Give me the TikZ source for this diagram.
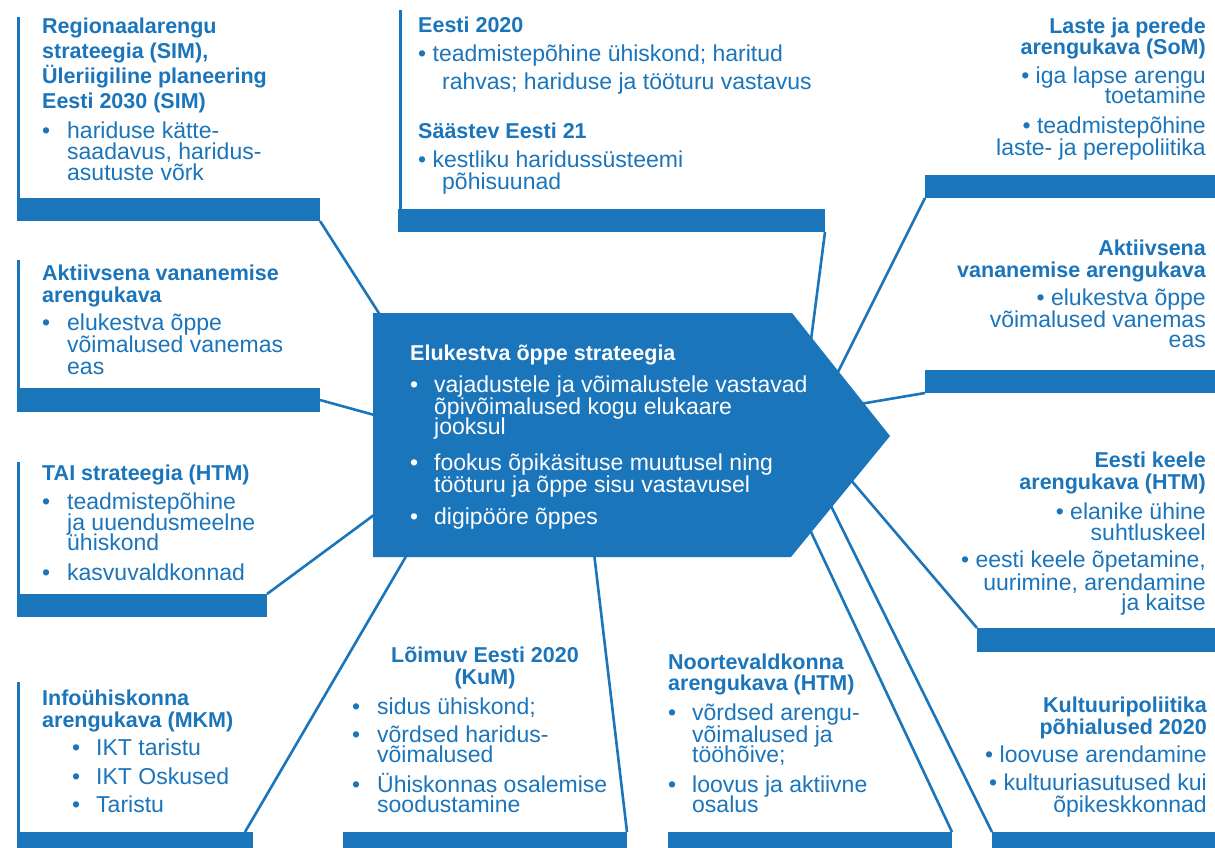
\documentclass[tikz,border=0pt]{standalone}
\usepackage{fontspec}
\setmainfont{Liberation Sans}
\definecolor{eblue}{RGB}{27,117,187}
\newcommand\bl{\makebox[25pt][l]{•}}
\newcommand\bs{\makebox[21pt][l]{•}}
\begin{document}
\begin{tikzpicture}[x=1pt,y=-1pt,
  bar/.style={fill=eblue,draw=none,inner sep=0pt,outer sep=0pt,anchor=north west},
  vline/.style={draw=eblue,line width=3pt},
  conn/.style={draw=eblue,line width=2.6pt},
  ttl/.style={font=\bfseries\fontsize{21.5}{22}\selectfont,text=eblue,inner sep=0pt,anchor=base west},
  bdy/.style={font=\fontsize{23}{22}\selectfont,text=eblue,inner sep=0pt,anchor=base west},
  ttlr/.style={ttl,anchor=base east},
  bdyr/.style={bdy,anchor=base east},
  wttl/.style={ttl,text=white},
  wbdy/.style={bdy,text=white}]
\useasboundingbox (0,0) rectangle (1215,848);
\fill[white] (0,0) rectangle (1215,848);

% bars
\node[bar,minimum width=303pt,minimum height=23pt] (b1) at (17,198) {};
\node[bar,minimum width=427pt,minimum height=23pt] (b2) at (398,209) {};
\node[bar,minimum width=290pt,minimum height=23pt] (b3) at (925,175) {};
\node[bar,minimum width=303pt,minimum height=24pt] (b4) at (17,388) {};
\node[bar,minimum width=290pt,minimum height=23pt] (b5) at (925,370) {};
\node[bar,minimum width=250pt,minimum height=23pt] (b6) at (17,594) {};
\node[bar,minimum width=238pt,minimum height=24pt] (b7) at (977,628) {};
\node[bar,minimum width=236pt,minimum height=16pt] (b8) at (17,832) {};
\node[bar,minimum width=284pt,minimum height=16pt] (b9) at (343,832) {};
\node[bar,minimum width=284pt,minimum height=16pt] (b10) at (668,832) {};
\node[bar,minimum width=223pt,minimum height=16pt] (b11) at (992,832) {};

% vertical box edges
\draw[vline] (18.5,17) -- (18.5,198);
\draw[vline] (400,10) -- (400,209);
\draw[vline] (18.5,260) -- (18.5,388);
\draw[vline] (18.5,462) -- (18.5,594);
\draw[vline] (18.5,682) -- (18.5,832);

% arrow anchor points
\coordinate (a1) at (382,318);
\coordinate (a2) at (378,416);
\coordinate (a3) at (378,512);
\coordinate (a4) at (408,553);
\coordinate (a5) at (594,553);
\coordinate (a6) at (811,532);
\coordinate (a7) at (831,506);
\coordinate (a8) at (850,479);
\coordinate (a9) at (860,404);
\coordinate (a10) at (836,376);
\coordinate (a11) at (811,340);

% connectors
\draw[conn] (b1.south east) -- (a1);
\draw[conn] (b4.east) -- (a2);
\draw[conn] (b6.north east) -- (a3);
\draw[conn] ([xshift=-8pt]b8.north east) -- (a4);
\draw[conn] (b9.north east) -- (a5);
\draw[conn] (b10.north east) -- (a6);
\draw[conn] (b11.north west) -- (a7);
\draw[conn] (b7.north west) -- (a8);
\draw[conn] (b5.south west) -- (a9);
\draw[conn] (b3.south west) -- (a10);
\draw[conn] (b2.south east) -- (a11);

% central arrow
\coordinate (p1) at (373,313);
\coordinate (p2) at (792,313);
\coordinate (p3) at (890,436);
\coordinate (p4) at (791,557);
\coordinate (p5) at (373,557);
\fill[eblue] (p1) -- (p2) -- (p3) -- (p4) -- (p5) -- cycle;
\node[wttl] (ct) at (410,360) {Elukestva õppe strateegia};
\foreach \x/\y/\t [count=\i] in {410/392/{\makebox[24pt][l]{•}vajadustele ja võimalustele vastavad},
  434/414/{õpivõimalused kogu elukaare},
  434/434/{jooksul},
  410/470/{\makebox[24pt][l]{•}fookus õpikäsituse muutusel ning},
  434/492/{tööturu ja õppe sisu vastavusel},
  410/524/{\makebox[24pt][l]{•}digipööre õppes}}
  \node[wbdy] (cb\i) at (\x,\y) {\t};

% Regionaalarengu
\foreach \y/\t [count=\i] in {34/Regionaalarengu,59/{strateegia (SIM),},84/{Üleriigiline planeering},109/{Eesti 2030 (SIM)}}
  \node[ttl] (r1t\i) at (42,\y) {\t};
\foreach \x/\y/\t [count=\i] in {42/139/{\bl hariduse kätte-},67/160/{saadavus, haridus-},67/180/{asutuste võrk}}
  \node[bdy] (r1b\i) at (\x,\y) {\t};

% Eesti 2020
\node[ttl] (r2t1) at (418,33) {Eesti 2020};
\node[ttl] (r2t2) at (418,139) {Säästev Eesti 21};
\foreach \x/\y/\t [count=\i] in {418/62/{• teadmistepõhine ühiskond; haritud},442/90/{rahvas; hariduse ja tööturu vastavus},418/167/{• kestliku haridussüsteemi},442/189/{põhisuunad}}
  \node[bdy] (r2b\i) at (\x,\y) {\t};

% Laste ja perede
\foreach \y/\t [count=\i] in {34/{Laste ja perede},55/{arengukava (SoM)}}
  \node[ttlr] (r3t\i) at (1206,\y) {\t};
\foreach \y/\t [count=\i] in {84/{• iga lapse arengu},104/{toetamine},134/{• teadmistepõhine},155/{laste- ja perepoliitika}}
  \node[bdyr] (r3b\i) at (1206,\y) {\t};

% Aktiivsena (left)
\foreach \y/\t [count=\i] in {280/{Aktiivsena vananemise},302/{arengukava}}
  \node[ttl] (r4t\i) at (42,\y) {\t};
\foreach \x/\y/\t [count=\i] in {42/330/{\bl elukestva õppe},67/352/{võimalused vanemas},67/374/{eas}}
  \node[bdy] (r4b\i) at (\x,\y) {\t};

% Aktiivsena (right)
\foreach \y/\t [count=\i] in {255/{Aktiivsena},277/{vananemise arengukava}}
  \node[ttlr] (r5t\i) at (1206,\y) {\t};
\foreach \y/\t [count=\i] in {305/{• elukestva õppe},327/{võimalused vanemas},347/{eas}}
  \node[bdyr] (r5b\i) at (1206,\y) {\t};

% TAI
\node[ttl] (r6t1) at (42,480) {TAI strateegia (HTM)};
\foreach \x/\y/\t [count=\i] in {42/509/{\bl teadmistepõhine},67/530/{ja uuendusmeelne},67/550/{ühiskond},42/580/{\bl kasvuvaldkonnad}}
  \node[bdy] (r6b\i) at (\x,\y) {\t};

% Eesti keele
\foreach \y/\t [count=\i] in {467/{Eesti keele},489/{arengukava (HTM)}}
  \node[ttlr] (r7t\i) at (1206,\y) {\t};
\foreach \y/\t [count=\i] in {519/{• elanike ühine},540/{suhtluskeel},567/{• eesti keele õpetamine,},590/{uurimine, arendamine},610/{ja kaitse}}
  \node[bdyr] (r7b\i) at (1206,\y) {\t};

% Infoühiskonna
\foreach \y/\t [count=\i] in {705/{Infoühiskonna},727/{arengukava (MKM)}}
  \node[ttl] (r8t\i) at (42,\y) {\t};
\foreach \y/\t [count=\i] in {755/{IKT taristu},784/{IKT Oskused},812/{Taristu}}
  \node[bdy] (r8b\i) at (72,\y) {\makebox[24pt][l]{•}\t};

% Lõimuv
\node[ttl,anchor=base] (r9t1) at (485,662) {Lõimuv Eesti 2020};
\node[ttl,anchor=base] (r9t2) at (485,684) {(KuM)};
\foreach \x/\y/\t [count=\i] in {352/714/{\bl sidus ühiskond;},377/742/{\kern0pt võrdsed haridus-},377/762/{võimalused},352/792/{\bl Ühiskonnas osalemise},377/812/{soodustamine}}
  \node[bdy] (r9b\i) at (\x,\y) {\t};
\node[bdy] (r9bb) at (352,742) {•};

% Noortevaldkonna
\foreach \y/\t [count=\i] in {669/{Noortevaldkonna},690/{arengukava (HTM)}}
  \node[ttl] (r10t\i) at (668,\y) {\t};
\foreach \x/\y/\t [count=\i] in {668/720/{\makebox[24pt][l]{•}võrdsed arengu-},692/742/{võimalused ja},692/762/{tööhõive;},668/792/{\makebox[24pt][l]{•}loovus ja aktiivne},692/812/{osalus}}
  \node[bdy] (r10b\i) at (\x,\y) {\t};

% Kultuuripoliitika
\foreach \y/\t [count=\i] in {712/{Kultuuripoliitika},734/{põhialused 2020}}
  \node[ttlr] (r11t\i) at (1207,\y) {\t};
\foreach \y/\t [count=\i] in {762/{• loovuse arendamine},790/{• kultuuriasutused kui},812/{õpikeskkonnad}}
  \node[bdyr] (r11b\i) at (1207,\y) {\t};
\end{tikzpicture}
\end{document}
